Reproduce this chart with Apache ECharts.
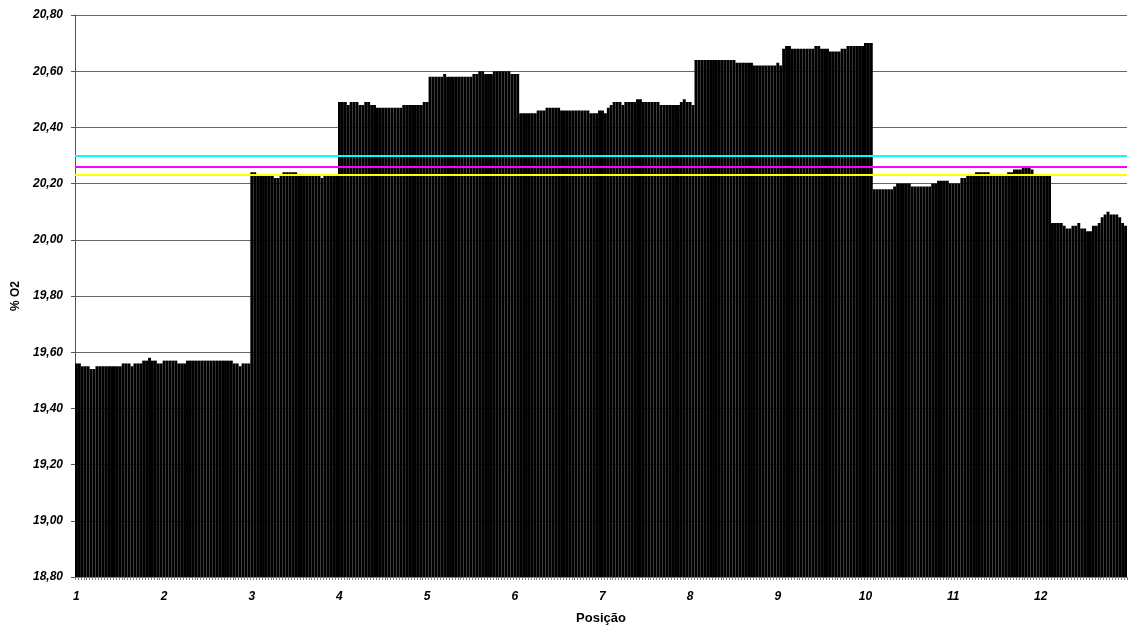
<!DOCTYPE html>
<html>
<head>
<meta charset="utf-8">
<script src="https://cdn.jsdelivr.net/npm/echarts@6/dist/echarts.min.js"></script>
<style>
  html, body { margin: 0; padding: 0; background: #ffffff; overflow: hidden; }
  #chart { width: 1128px; height: 627px; }
</style>
</head>
<body>
<div id="chart"></div>
<script>
// Position labels shown on the x axis, one every 30 readings
const positions = ['1', '2', '3', '4', '5', '6', '7', '8', '9', '10', '11', '12'];
const readingsPerPosition = 30;

// % O2 readings, 30 per position block
const pos01 = [19.56,19.56,19.55,19.55,19.55,19.54,19.54,19.55,19.55,19.55,
               19.55,19.55,19.55,19.55,19.55,19.55,19.56,19.56,19.56,19.55,
               19.56,19.56,19.56,19.57,19.57,19.58,19.57,19.57,19.56,19.56];
const pos02 = [19.57,19.57,19.57,19.57,19.57,19.56,19.56,19.56,19.57,19.57,
               19.57,19.57,19.57,19.57,19.57,19.57,19.57,19.57,19.57,19.57,
               19.57,19.57,19.57,19.57,19.56,19.56,19.55,19.56,19.56,19.56];
const pos03 = [20.24,20.24,20.23,20.23,20.23,20.23,20.23,20.23,20.22,20.22,
               20.23,20.24,20.24,20.24,20.24,20.24,20.23,20.23,20.23,20.23,
               20.23,20.23,20.23,20.23,20.22,20.23,20.23,20.23,20.23,20.23];
const pos04 = [20.49,20.49,20.49,20.48,20.49,20.49,20.49,20.48,20.48,20.49,
               20.49,20.48,20.48,20.47,20.47,20.47,20.47,20.47,20.47,20.47,
               20.47,20.47,20.48,20.48,20.48,20.48,20.48,20.48,20.48,20.49];
const pos05 = [20.49,20.58,20.58,20.58,20.58,20.58,20.59,20.58,20.58,20.58,
               20.58,20.58,20.58,20.58,20.58,20.58,20.59,20.59,20.60,20.60,
               20.59,20.59,20.59,20.60,20.60,20.60,20.60,20.60,20.60,20.59];
const pos06 = [20.59,20.59,20.45,20.45,20.45,20.45,20.45,20.45,20.46,20.46,
               20.46,20.47,20.47,20.47,20.47,20.47,20.46,20.46,20.46,20.46,
               20.46,20.46,20.46,20.46,20.46,20.46,20.45,20.45,20.45,20.46];
const pos07 = [20.46,20.45,20.47,20.48,20.49,20.49,20.49,20.48,20.49,20.49,
               20.49,20.49,20.50,20.50,20.49,20.49,20.49,20.49,20.49,20.49,
               20.48,20.48,20.48,20.48,20.48,20.48,20.48,20.49,20.50,20.49];
const pos08 = [20.49,20.48,20.64,20.64,20.64,20.64,20.64,20.64,20.64,20.64,
               20.64,20.64,20.64,20.64,20.64,20.64,20.63,20.63,20.63,20.63,
               20.63,20.63,20.62,20.62,20.62,20.62,20.62,20.62,20.62,20.62];
const pos09 = [20.63,20.62,20.68,20.69,20.69,20.68,20.68,20.68,20.68,20.68,
               20.68,20.68,20.68,20.69,20.69,20.68,20.68,20.68,20.67,20.67,
               20.67,20.67,20.68,20.68,20.69,20.69,20.69,20.69,20.69,20.69];
const pos10 = [20.70,20.70,20.70,20.18,20.18,20.18,20.18,20.18,20.18,20.18,
               20.19,20.20,20.20,20.20,20.20,20.20,20.19,20.19,20.19,20.19,
               20.19,20.19,20.19,20.20,20.20,20.21,20.21,20.21,20.21,20.20];
const pos11 = [20.20,20.20,20.20,20.22,20.22,20.23,20.23,20.23,20.24,20.24,
               20.24,20.24,20.24,20.23,20.23,20.23,20.23,20.23,20.23,20.24,
               20.24,20.25,20.25,20.25,20.26,20.26,20.26,20.25,20.23,20.23];
const pos12 = [20.23,20.23,20.23,20.23,20.06,20.06,20.06,20.06,20.05,20.04,
               20.04,20.05,20.05,20.06,20.04,20.04,20.03,20.03,20.05,20.05,
               20.06,20.08,20.09,20.10,20.09,20.09,20.09,20.08,20.06,20.05];

// Reference levels drawn across the plot
const upperLimit = 20.296;
const meanLevel = 20.264;
const lowerLimit = 20.232;

// Y axis scale
const yMin = 18.8;
const yMax = 20.8;
const yStep = 0.2;

const readings = [].concat(pos01, pos02, pos03, pos04, pos05, pos06,
                           pos07, pos08, pos09, pos10, pos11, pos12);
const categories = readings.map((_, i) =>
  positions[Math.floor(i / readingsPerPosition)] + '-' + (i % readingsPerPosition));

const labelFont = {
  fontFamily: 'Liberation Sans, Arial, sans-serif',
  fontWeight: 'bold',
  fontStyle: 'italic',
  fontSize: 12,
  color: '#000'
};

const chart = echarts.init(document.getElementById('chart'), null, { renderer: 'canvas' });
chart.setOption({
  animation: false,
  backgroundColor: '#ffffff',
  grid: {
    left: 75, right: 1, top: 15, bottom: 50,
    containLabel: false,
    outerBoundsMode: 'none'
  },
  xAxis: {
    type: 'category',
    data: categories,
    boundaryGap: true,
    name: 'Posição',
    nameLocation: 'middle',
    nameGap: 35,
    nameTextStyle: {
      fontFamily: 'Liberation Sans, Arial, sans-serif',
      fontWeight: 'bold',
      fontSize: 13,
      color: '#000'
    },
    axisLine: { lineStyle: { color: '#808080', width: 1 } },
    axisTick: { show: true, interval: 0, length: 3, lineStyle: { color: '#808080' } },
    axisLabel: Object.assign({}, labelFont, {
      interval: (index) => index % readingsPerPosition === 0,
      margin: 14,
      formatter: (v) => v.split('-')[0]
    }),
    splitLine: { show: false }
  },
  yAxis: {
    type: 'value',
    min: yMin,
    max: yMax,
    interval: yStep,
    name: '% O2',
    nameLocation: 'middle',
    nameGap: 50,
    nameTextStyle: {
      fontFamily: 'Liberation Sans, Arial, sans-serif',
      fontWeight: 'bold',
      fontSize: 12,
      color: '#000'
    },
    axisLine: { show: true, lineStyle: { color: '#555', width: 1 } },
    axisTick: { show: true, length: 4, lineStyle: { color: '#555' } },
    axisLabel: Object.assign({}, labelFont, {
      margin: 12,
      formatter: (v) => v.toFixed(2).replace('.', ',')
    }),
    splitLine: { show: true, lineStyle: { color: '#666', width: 1 } }
  },
  series: [{
    type: 'bar',
    data: readings,
    barCategoryGap: '0%',
    barGap: '0%',
    itemStyle: { color: '#000000' },
    silent: true,
    markLine: {
      silent: true,
      symbol: 'none',
      label: { show: false },
      data: [
        { yAxis: upperLimit, lineStyle: { color: '#00ffff', width: 2, type: 'solid' } },
        { yAxis: meanLevel, lineStyle: { color: '#ff00ff', width: 2, type: 'solid' } },
        { yAxis: lowerLimit, lineStyle: { color: '#ffff00', width: 2, type: 'solid' } }
      ]
    }
  }]
});
</script>
</body>
</html>
